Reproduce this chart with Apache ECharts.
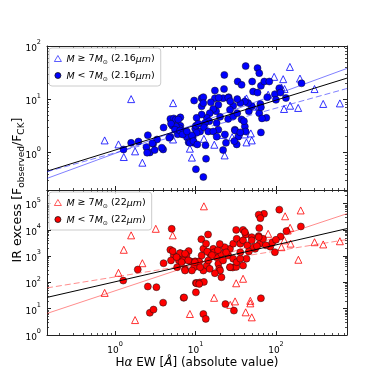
<!DOCTYPE html>
<html>
<head>
<meta charset="utf-8">
<script src="https://cdn.jsdelivr.net/npm/echarts@6/dist/echarts.min.js"></script>
<style>
  html, body { margin: 0; padding: 0; background: #fff; }
  #chart { width: 384px; height: 384px; }
</style>
</head>
<body>
<div id="chart"></div>
<script>
// axis ranges (data units)
const xRange = [0.142, 765];
const kRange = [0.2, 100];
const wRange = [1, 3.3e5];

// 2.16 micron panel: [Halpha EW, IR excess]
const kHigh = [
  [1.58, 10.1], [5.25, 8.5], [0.74, 1.7], [1.1, 1.43], [1.77, 1.06], [1.28, 0.83], [2.18, 0.65],
  [5.25, 1.77], [8.5, 1.19], [9.0, 0.81], [12.7, 1.82], [17.1, 1.41], [23, 0.89], [28.5, 1.95],
  [22, 2.16], [41, 2.2], [43, 1.56], [48.7, 2.3], [50, 1.7], [41, 9.8], [43, 10.4], [53, 7.3],
  [61, 7.4], [80, 12.2], [95, 26.4], [123, 23.9], [117, 16.7], [128, 15.6], [126, 6.6], [150, 7.6],
  [189, 6.9], [149, 40.5], [199, 24.5], [302, 15.6], [387, 8.2], [624, 8.4]
];
const kLow = [
  [1.27, 1.15], [1.58, 1.53], [1.95, 1.62], [2.55, 2.13], [2.45, 1.27], [2.7, 1.01], [2.97, 1.47],
  [3.32, 1.77], [3.95, 1.15], [4.0, 2.96], [4.86, 1.99], [4.86, 4.3], [5.36, 4.4], [5.67, 4.17],
  [6.47, 4.6], [6.47, 3.2], [5.16, 3.2], [5.67, 2.87], [6.35, 2.87], [6.0, 2.22], [7.1, 2.5],
  [7.8, 1.95], [8.2, 1.57], [9.5, 1.53], [9.2, 1.95], [9.9, 2.8], [4.7, 1.9], [3.8, 1.24],
  [3.1, 1.12], [2.5, 1.0], [2.9, 1.5], [5.7, 3.1], [4.95, 3.5], [6.1, 4.2], [5.55, 2.7], [6.4, 2.6],
  [6.9, 2.2], [9.6, 9.5], [11.9, 10.5], [12.5, 11], [17.4, 14.6], [17.4, 10.5], [22, 10.5],
  [22.8, 28.7], [25.8, 11], [33.4, 21.6], [37.4, 18.7], [42, 42], [50.6, 21.6], [59, 38.5],
  [62, 31], [65, 17.9], [71.5, 21.6], [82.6, 21.6], [78, 11], [97, 12.5], [110, 16.2], [114, 13.4],
  [133, 10.6], [208, 20], [100, 9.8], [76, 4.5], [65, 2.4], [62, 5.5], [46, 6], [50, 7.4],
  [45, 8.5], [41, 9.1], [36, 8.5], [33, 10.1], [29.4, 7.6], [26.8, 6.4], [25.4, 4.3], [29.4, 4.8],
  [33, 5.5], [37.4, 4.2], [41, 3.1], [40, 3.9], [42, 2.5], [30.8, 2.7], [34, 2.0], [32.5, 1.43],
  [30.3, 1.65], [23.9, 1.53], [23.2, 2.2], [19.2, 2.7], [18.3, 3.6], [20.2, 4.7], [18, 6],
  [19.2, 7.9], [16.6, 6.6], [15, 5.5], [13.8, 4.5], [14.8, 3.9], [13.1, 3.6], [11.9, 5.2],
  [11.9, 7.4], [12.5, 8.5], [10.3, 4.5], [10.1, 3.2], [11.4, 2.5], [12.7, 3.0], [14.4, 2.5],
  [16.6, 2.5], [18.3, 2.0], [10.3, 2.36], [9, 2.1], [7.8, 2.5], [8.5, 1.53], [9.4, 1.65],
  [10.5, 1.43], [13.3, 1.38], [22, 1.12], [13.5, 0.77], [10.1, 0.49], [12.5, 0.35], [10.8, 3.5],
  [52, 14], [59, 13.4], [22.6, 15.6], [64, 8.2], [65, 7.1], [67, 4.4], [31, 2.6], [36, 2.4],
  [19.4, 10.7], [25.5, 10.7], [15.5, 8.8], [27, 9.2]
];

// 22 micron panel
const wHigh = [
  [1.58, 6200], [3.2, 11000], [5.2, 6200], [1.28, 1750], [2.18, 540], [1.1, 233], [0.74, 40],
  [1.77, 3.7], [8.5, 6.3], [12.7, 79000], [203, 55000], [130, 33000], [150, 12000], [140, 9500],
  [80, 7100], [127, 4000], [302, 3400], [387, 2800], [624, 3700], [152, 3000], [117, 2200],
  [190, 730], [39, 138], [32, 93], [17, 26], [31, 19], [27, 14], [48, 20], [48, 16], [42, 7.3],
  [50, 4.7]
];
const wLow = [
  [5.05, 11000], [4.86, 1750], [4.0, 540], [5.9, 380], [7.4, 320], [1.91, 310], [1.26, 118],
  [2.55, 70], [3.26, 66], [3.95, 17], [2.7, 7], [3.0, 9.3], [7.1, 26], [10.1, 96], [10.1, 42],
  [5.36, 1060], [6.47, 1300], [6.2, 690], [4.95, 690], [6.8, 920], [8.2, 1560], [7.7, 1060],
  [8.6, 640], [9.9, 640], [9.6, 380], [110, 59000], [71, 41000], [61, 38000], [64, 28000],
  [204, 13500], [135, 9000], [114, 5600], [62, 11700], [32, 10000], [39, 10000], [14.3, 6700],
  [11.8, 4400], [61, 5800], [50, 5300], [42, 6700], [97, 1420], [43, 800], [39, 440], [27, 380],
  [29, 370], [32, 390], [21, 158], [10.3, 93], [11.3, 100], [12.7, 105], [7.2, 27], [23.5, 15],
  [65, 25], [30, 8.5], [12.5, 6.3], [13.4, 4.1], [6.4, 1300], [7.0, 690], [11.1, 640],
  [11.9, 1060], [12.5, 1900], [13.5, 3000], [12.5, 285], [13.8, 440], [14.4, 690], [15.1, 1250],
  [16.6, 1900], [18.3, 920], [19.2, 510], [19.7, 330], [20.9, 1250], [22, 690], [25.5, 1060],
  [26.8, 1900], [29.4, 3000], [32.5, 4600], [36, 3000], [39, 4000], [44, 2600], [50, 4000],
  [55, 1900], [63, 3000], [69, 4600], [61, 5300], [29.4, 800], [26.8, 380], [32.5, 590],
  [36, 800], [20.2, 285], [17.4, 225], [15, 330], [11.4, 380], [9.8, 590], [9, 285], [8.1, 690],
  [7.4, 1250], [6.7, 590], [5.8, 920], [5.2, 1560], [7.4, 285], [11.1, 88], [41, 8300],
  [17, 1400], [19, 1700], [23, 2200], [24, 1400], [14, 1500], [16, 1100], [20, 2900], [85, 2300],
  [90, 3300], [75, 2600], [46, 1500], [53, 2200], [36, 1400], [58, 2400], [100, 4200]
];

// fitted relations, end points at the axis limits
const kFitAll = [[0.142, 0.45], [765, 25]];
const kFitHigh = [[0.142, 0.33], [765, 38]];
const kFitLow = [[0.142, 0.44], [765, 16]];
const wFitAll = [[0.142, 27], [765, 11200]];
const wFitHigh = [[0.142, 6.6], [765, 41500]];
const wFitLow = [[0.142, 62], [765, 4300]];

const FONT = 'DejaVu Sans';
const INK = '#222';

function decades(lo, hi, mult) {
  const out = [];
  for (let e = -2; e <= 6; e++) {
    for (const m of mult) {
      const v = m * Math.pow(10, e);
      if (v >= lo * 0.999 && v <= hi * 1.001) out.push(v);
    }
  }
  return out;
}
const MAJ = [1];
const MIN = [2, 3, 4, 5, 6, 7, 8, 9];

const labelStyle = {
  fontFamily: FONT,
  color: '#000',
  formatter: (v) => '{b|10}{s|' + Math.round(Math.log10(v)) + '}',
  rich: {
    b: { fontFamily: FONT, fontSize: 9, lineHeight: 14, verticalAlign: 'bottom', color: '#000' },
    s: { fontFamily: FONT, fontSize: 6.5, lineHeight: 14, verticalAlign: 'top', color: '#000' }
  }
};

// a major and a minor axis on one side of a grid
function sideAxes(grid, pos, range, withLabels) {
  const major = {
    type: 'log', gridIndex: grid, position: pos, min: range[0], max: range[1],
    axisLine: { show: true, onZero: false, lineStyle: { color: INK, width: 1 } },
    axisTick: { show: true, inside: true, length: 4, customValues: decades(range[0], range[1], MAJ),
                lineStyle: { color: INK, width: 1 } },
    axisLabel: withLabels
      ? Object.assign({ show: true, margin: 6, customValues: decades(range[0], range[1], MAJ) }, labelStyle)
      : { show: false },
    splitLine: { show: false }
  };
  const minor = {
    type: 'log', gridIndex: grid, position: pos, min: range[0], max: range[1],
    axisLine: { show: false },
    axisTick: { show: true, inside: true, length: 2, customValues: decades(range[0], range[1], MIN),
                lineStyle: { color: INK, width: 0.8 } },
    axisLabel: { show: false },
    splitLine: { show: false }
  };
  return [major, minor];
}

const xAxes = [
  ...sideAxes(0, 'bottom', xRange, false), ...sideAxes(0, 'top', xRange, false),
  ...sideAxes(1, 'bottom', xRange, true), ...sideAxes(1, 'top', xRange, false)
];
const yAxes = [
  ...sideAxes(0, 'left', kRange, true), ...sideAxes(0, 'right', kRange, false),
  ...sideAxes(1, 'left', wRange, true), ...sideAxes(1, 'right', wRange, false)
];

function openTri(name, data, color, g) {
  return {
    name, type: 'scatter', data, xAxisIndex: g * 4, yAxisIndex: g * 4,
    symbol: 'triangle', symbolSize: 7, z: 2,
    itemStyle: { color: 'rgba(0,0,0,0)', borderColor: color, borderWidth: 1 }
  };
}
function dot(name, data, color, g) {
  return {
    name, type: 'scatter', data, xAxisIndex: g * 4, yAxisIndex: g * 4,
    symbol: 'circle', symbolSize: 7, z: 3,
    itemStyle: { color, borderColor: '#111', borderWidth: 0.5, opacity: 1 }
  };
}
function fit(data, color, dashed, g) {
  return {
    type: 'line', data, xAxisIndex: g * 4, yAxisIndex: g * 4, symbol: 'none', z: 4,
    silent: true, legendHoverLink: false,
    lineStyle: { color, width: 1, type: dashed ? [6, 3] : 'solid' }
  };
}

const legendNames = {
  kHigh: '{i|M} ≥ 7{i|M}{u|⊙} (2.16{i|μm})',
  kLow: '{i|M} < 7{i|M}{u|⊙} (2.16{i|μm})',
  wHigh: '{i|M} ≥ 7{i|M}{u|⊙} (22{i|μm})',
  wLow: '{i|M} < 7{i|M}{u|⊙} (22{i|μm})'
};
const legendText = {
  fontFamily: FONT, fontSize: 9.5, color: '#000', lineHeight: 13, verticalAlign: 'bottom',
  rich: {
    i: { fontFamily: FONT, fontSize: 9.5, fontStyle: 'italic', color: '#000', lineHeight: 13, verticalAlign: 'bottom' },
    u: { fontFamily: FONT, fontSize: 6, color: '#000', lineHeight: 13, verticalAlign: 'bottom' }
  }
};
function legendBox(top, names) {
  return {
    data: names, left: 49, top, orient: 'vertical', itemWidth: 7, itemHeight: 6, itemGap: 4,
    padding: [4, 6, 4, 5], borderColor: '#ccc', borderWidth: 1, borderRadius: 3,
    backgroundColor: 'rgba(255,255,255,0.8)', selectedMode: false,
    itemStyle: { borderWidth: 0.8 },
    formatter: (n) => legendNames[n], textStyle: legendText
  };
}

const chart = echarts.init(document.getElementById('chart'), null, { renderer: 'canvas' });
chart.setOption({
  animation: false,
  backgroundColor: '#fff',
  grid: [
    { left: 47, top: 46, width: 300, height: 144, outerBoundsMode: 'none' },
    { left: 47, top: 190, width: 300, height: 145, outerBoundsMode: 'none' }
  ],
  xAxis: xAxes,
  yAxis: yAxes,
  legend: [legendBox(48, ['kHigh', 'kLow']), legendBox(192, ['wHigh', 'wLow'])],
  series: [
    openTri('kHigh', kHigh, '#0000ff', 0),
    dot('kLow', kLow, '#0000ff', 0),
    fit(kFitAll, '#000', false, 0),
    fit(kFitHigh, 'rgba(0,0,255,0.5)', false, 0),
    fit(kFitLow, 'rgba(0,0,255,0.5)', true, 0),
    openTri('wHigh', wHigh, '#ff0000', 1),
    dot('wLow', wLow, '#ff0000', 1),
    fit(wFitAll, '#000', false, 1),
    fit(wFitHigh, 'rgba(255,0,0,0.45)', false, 1),
    fit(wFitLow, 'rgba(255,0,0,0.45)', true, 1)
  ],
  graphic: [
    {
      type: 'text', x: 18, y: 190, rotation: Math.PI / 2,
      style: {
        text: 'IR excess [F{s|observed}/F{s|CK}]',
        fontFamily: FONT, fontSize: 12.5, fill: '#000', align: 'center', verticalAlign: 'middle',
        rich: {
          s: { fontFamily: FONT, fontSize: 9, fill: '#000', lineHeight: 16, verticalAlign: 'bottom' }
        }
      }
    },
    {
      type: 'text', x: 197, y: 363,
      style: {
        text: 'H{i|α} EW [{i|Å}] (absolute value)',
        fontFamily: FONT, fontSize: 12, fill: '#000', align: 'center', verticalAlign: 'middle',
        rich: { i: { fontFamily: FONT, fontSize: 12, fontStyle: 'italic', fill: '#000' } }
      }
    }
  ]
});
</script>
</body>
</html>
